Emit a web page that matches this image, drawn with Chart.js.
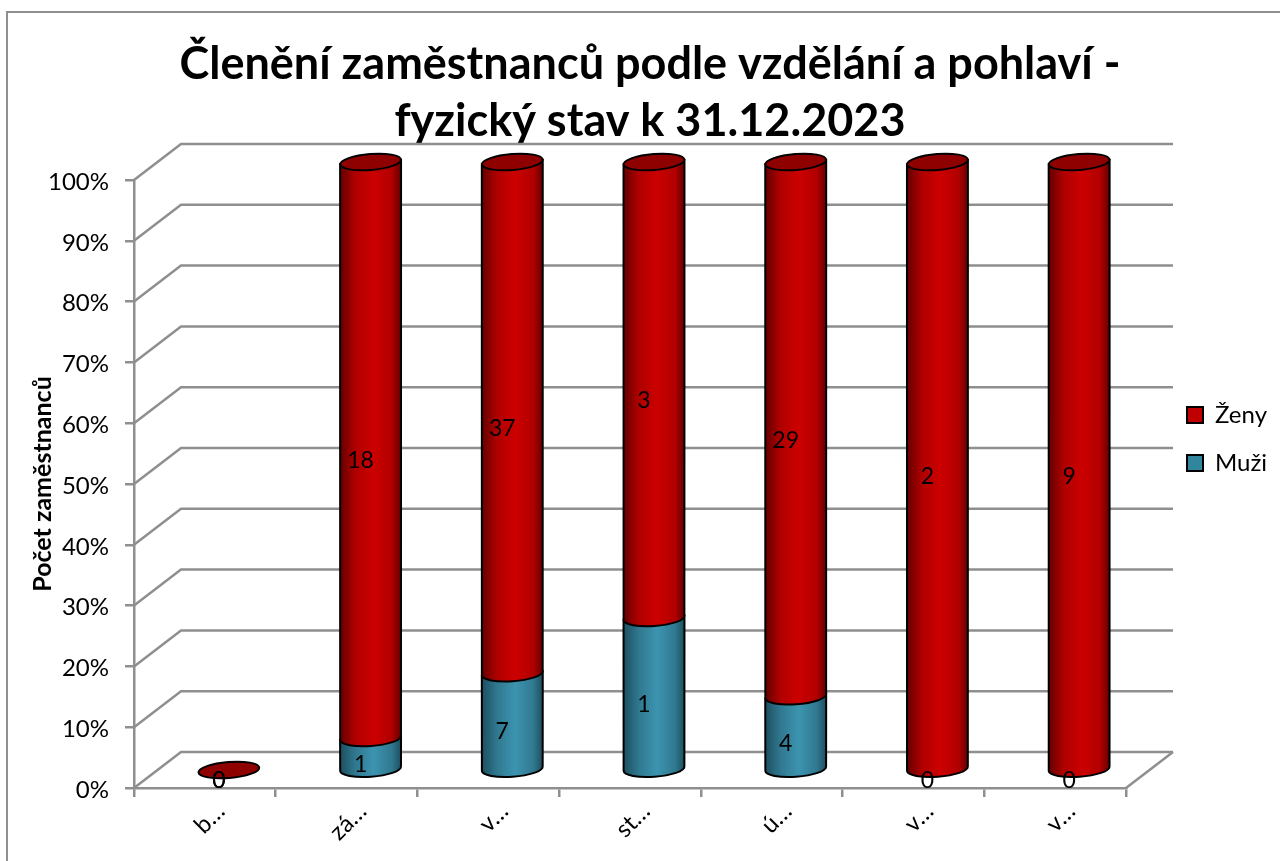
<!DOCTYPE html>
<html lang="cs">
<head>
<meta charset="utf-8">
<title>Členění zaměstnanců</title>
<script src="https://cdn.jsdelivr.net/npm/chart.js@4"></script>
<style>
  html, body { margin: 0; background: #fff; }
  canvas { display: block; }
</style>
</head>
<body>
<canvas id="chart" width="1280" height="861"></canvas>
<script>
const categories = ["b…", "zá…", "v…", "st…", "ú…", "v…", "v…"];
const menCounts = [0, 1, 7, 1, 4, 0, 0];
const womenCounts = [0, 18, 37, 3, 29, 2, 9];
const titleLines = ["Členění zaměstnanců podle vzdělání a pohlaví -", "fyzický stav k 31.12.2023"];

// stacked 100 %: each category is shown as its share, the counts stay for the labels
const share = (part, other) => (part + other === 0 ? 0 : (part / (part + other)) * 100);
const menShare = menCounts.map((v, i) => share(v, womenCounts[i]));
const womenShare = womenCounts.map((v, i) => share(v, menCounts[i]));

const FONT = "Lato, 'Open Sans', sans-serif";
const GRID = "#8f8f8f";
const RED = { edge: "#640000", shade: "#b00000", mid: "#cc0000", top: "#8f0000" };
const TEAL = { edge: "#1d4f60", shade: "#30788f", mid: "#3c94b0" };

function cylinder(ctx, x, top, bottom, r, colors) {
  const ry = 8;
  const tilt = -0.07;
  const dy = r * Math.sin(tilt);
  const grad = ctx.createLinearGradient(x - r, 0, x + r, 0);
  grad.addColorStop(0, colors.edge);
  grad.addColorStop(0.25, colors.shade);
  grad.addColorStop(0.55, colors.mid);
  grad.addColorStop(0.85, colors.shade);
  grad.addColorStop(1, colors.edge);
  ctx.beginPath();
  ctx.ellipse(x, bottom, r, ry, tilt, 0, Math.PI);
  ctx.lineTo(x - r, top - dy);
  ctx.lineTo(x + r, top + dy);
  ctx.closePath();
  ctx.fillStyle = grad;
  ctx.fill();
  ctx.strokeStyle = "#000";
  ctx.lineWidth = 2;
  ctx.stroke();
}

function lid(ctx, x, y, r) {
  ctx.beginPath();
  ctx.ellipse(x, y, r, 8, -0.08, 0, Math.PI * 2);
  ctx.fillStyle = RED.top;
  ctx.fill();
  ctx.strokeStyle = "#000";
  ctx.lineWidth = 2;
  ctx.stroke();
}

const chart3d = {
  id: "chart3d",
  afterLayout(chart) {
    // title and legend do not follow the plot area in the original
    const t = chart.titleBlock;
    t.left = 0;
    t.right = 1300;
    const l = chart.legend;
    l.left = 1163;
    l.right = 1280;
    l.top = 379;
    l.bottom = 510;
  },
  beforeDraw(chart) {
    const c = chart.ctx;
    c.save();
    c.strokeStyle = GRID;
    c.lineWidth = 2;
    c.beginPath();
    c.moveTo(7, 861);
    c.lineTo(7, 12);
    c.lineTo(1280, 12);
    c.stroke();
    c.restore();
  },
  beforeDatasetsDraw(chart) {
    // back wall and side of the floor
    const c = chart.ctx;
    const { left, right } = chart.chartArea;
    const y = chart.scales.y;
    c.save();
    c.strokeStyle = GRID;
    c.lineWidth = 2.5;
    y.ticks.forEach((tick) => {
      const py = y.getPixelForValue(tick.value);
      c.beginPath();
      c.moveTo(left, py);
      c.lineTo(left + 47, py - 36);
      c.lineTo(right + 47, py - 36);
      c.stroke();
    });
    const floor = y.getPixelForValue(0);
    c.beginPath();
    c.moveTo(right, floor);
    c.lineTo(right + 47, floor - 36);
    c.stroke();
    c.restore();
  },
  beforeDatasetDraw() {
    return false; // bars are drawn as cylinders below, from the same elements
  },
  afterDatasetsDraw(chart) {
    const c = chart.ctx;
    const men = chart.getDatasetMeta(0).data;
    const women = chart.getDatasetMeta(1).data;
    c.save();
    c.translate(24, -18);
    categories.forEach((_, i) => {
      const m = men[i];
      const w = women[i];
      const r = m.width / 2;
      if (menCounts[i] > 0) cylinder(c, m.x, m.y, m.base, r, TEAL);
      if (womenCounts[i] > 0) cylinder(c, w.x, w.y, w.base, r, RED);
      lid(c, w.x, w.y, r);
    });
    c.restore();

    c.save();
    c.font = "23px " + FONT;
    c.fillStyle = "#000";
    c.textAlign = "center";
    c.textBaseline = "middle";
    [[men, menCounts], [women, womenCounts]].forEach(([bars, counts]) => {
      bars.forEach((b, i) => {
        c.fillText(counts[i], b.x + 14, (b.y + b.base) / 2 - 7);
      });
    });
    c.restore();
  },
};

new Chart(document.getElementById("chart"), {
  type: "bar",
  data: {
    labels: categories,
    datasets: [
      { label: "Muži", data: menShare, backgroundColor: "#31859c", borderColor: "#000", borderWidth: 2 },
      { label: "Ženy", data: womenShare, backgroundColor: "#c00000", borderColor: "#000", borderWidth: 2 },
    ],
  },
  options: {
    responsive: false,
    animation: false,
    layout: { padding: { left: 0, right: 154, top: 0, bottom: 0 } },
    datasets: { bar: { categoryPercentage: 1, barPercentage: 0.43 } },
    plugins: {
      tooltip: { enabled: false },
      title: {
        display: true,
        text: titleLines,
        color: "#000",
        font: { family: FONT, size: 45, weight: "bold", lineHeight: 57 / 45 },
        padding: { top: 36, bottom: 30 },
      },
      legend: {
        position: "chartArea",
        align: "start",
        reverse: true,
        labels: {
          color: "#000",
          font: { family: FONT, size: 24 },
          boxWidth: 16,
          boxHeight: 16,
          padding: 24,
        },
      },
    },
    scales: {
      x: {
        stacked: true,
        afterFit: (s) => { s.height = 73; },
        border: { color: GRID, width: 2.5 },
        grid: { color: GRID, lineWidth: 2.5, drawOnChartArea: false, tickLength: 9 },
        ticks: {
          color: "#000",
          font: { family: FONT, size: 24 },
          maxRotation: 45,
          minRotation: 45,
          autoSkip: false,
          labelOffset: 16,
          padding: 0,
        },
      },
      y: {
        stacked: true,
        min: 0,
        max: 100,
        afterFit: (s) => { s.width = 134; },
        border: { color: GRID, width: 2.5 },
        grid: { color: GRID, lineWidth: 2.5, drawOnChartArea: false, tickLength: 9 },
        ticks: {
          stepSize: 10,
          color: "#000",
          font: { family: FONT, size: 24 },
          padding: 16,
          labelOffset: 2,
          callback: (v) => v + "%",
        },
        title: {
          display: true,
          text: "Počet zaměstnanců",
          color: "#000",
          font: { family: FONT, size: 25, weight: "bold" },
          padding: { top: 28, bottom: 0 },
        },
      },
    },
  },
  plugins: [chart3d],
});
</script>
</body>
</html>
